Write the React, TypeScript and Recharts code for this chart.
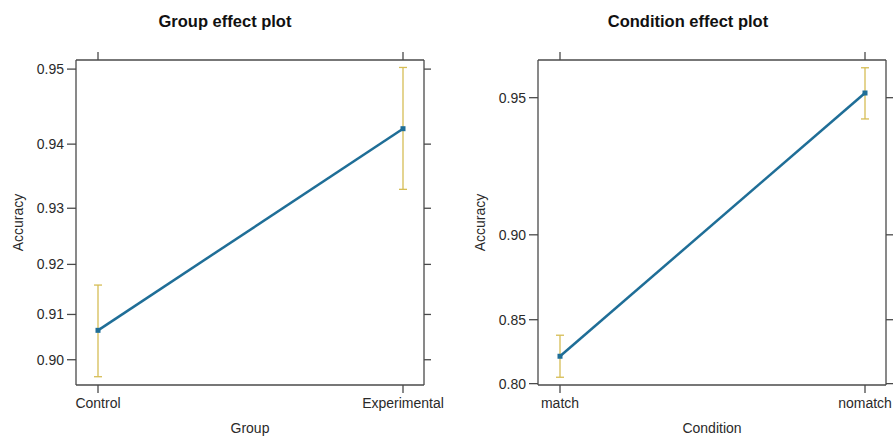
import React from "react";
import { ComposedChart, Line, XAxis, YAxis, ErrorBar } from "recharts";

// effect estimates (probability scale)
const groupCats = ["Control", "Experimental"];
const groupFit = [0.9066, 0.9422];
const groupLower = [0.896, 0.9331];
const groupUpper = [0.916, 0.9502];
const groupTicks = [0.9, 0.91, 0.92, 0.93, 0.94, 0.95];
const groupRange = [0.894, 0.9511];

const condCats = ["match", "nomatch"];
const condFit = [0.8228, 0.9512];
const condLower = [0.8055, 0.9442];
const condUpper = [0.8389, 0.9572];
const condTicks = [0.8, 0.85, 0.9, 0.95];
const condRange = [0.7988, 0.9589];

const LINE = "#1f6e97";
const BAR = "#d6bd55";
const FRAME = "#4a4a4a";
const FONT = '"Liberation Sans", Arial, sans-serif';

// effects plots for a binomial model use a logit y scale
const logit = (p: number) => Math.log(p / (1 - p));
const invLogit = (v: number) => 1 / (1 + Math.exp(-v));

function buildRows(cats: string[], fit: number[], lo: number[], hi: number[]) {
  return cats.map((name, i) => {
    const y = logit(fit[i]);
    return { name, y, err: [y - logit(lo[i]), logit(hi[i]) - y] };
  });
}

const SquareDot = (props: any) => {
  const { cx, cy, index } = props;
  if (cx == null || cy == null) return null;
  return <rect key={`dot-${index}`} x={cx - 2.5} y={cy - 2.5} width={5} height={5} fill={LINE} />;
};

interface PanelProps {
  title: string;
  titleX: number;
  xName: string;
  cats: string[];
  fit: number[];
  lo: number[];
  hi: number[];
  ticks: number[];
  range: number[];
  left: number;
  width: number;
  yWidth: number;
  rightWidth: number;
  pad: { left: number; right: number };
  labelX: number;
}

function EffectPanel(p: PanelProps) {
  const rows = buildRows(p.cats, p.fit, p.lo, p.hi);
  const domain = [logit(p.range[0]), logit(p.range[1])];
  const tickVals = p.ticks.map(logit);
  const tickStyle = { fill: "#2a2a2a", fontSize: 14 };

  return (
    <div style={{ position: "absolute", left: p.left, top: 0, width: p.width, height: 438 }}>
      <div
        style={{
          position: "absolute",
          top: 12,
          left: p.titleX - 150,
          width: 300,
          textAlign: "center",
          fontWeight: "bold",
          fontSize: 16.5,
          color: "#111",
        }}
      >
        {p.title}
      </div>
      <ComposedChart width={p.width} height={438} data={rows} margin={{ top: 0, right: 0, bottom: 0, left: 0 }}>
        <XAxis
          dataKey="name"
          type="category"
          height={53}
          padding={p.pad}
          stroke={FRAME}
          strokeWidth={1.3}
          tickSize={8}
          tickMargin={5}
          tick={tickStyle}
          label={{
            content: (lp: any) => {
              const vb = lp.viewBox || {};
              return (
                <text x={vb.x + vb.width / 2} y={428} textAnchor="middle" dominantBaseline="central" fontSize={14} fill="#2a2a2a">
                  {p.xName}
                </text>
              );
            },
          }}
        />
        <XAxis
          xAxisId="top"
          dataKey="name"
          type="category"
          orientation="top"
          height={60}
          padding={p.pad}
          stroke={FRAME}
          strokeWidth={1.3}
          tickSize={8}
          tickFormatter={() => ""}
        />
        <YAxis
          type="number"
          width={p.yWidth}
          domain={domain}
          allowDataOverflow
          ticks={tickVals}
          tickFormatter={(v: number) => invLogit(v).toFixed(2)}
          stroke={FRAME}
          strokeWidth={1.3}
          tickSize={9}
          tickMargin={3}
          tick={tickStyle}
          label={{
            content: (lp: any) => {
              const vb = lp.viewBox || {};
              const cx = vb.x + p.labelX;
              const cy = vb.y + vb.height / 2;
              return (
                <text
                  x={cx}
                  y={cy}
                  transform={`rotate(-90, ${cx}, ${cy})`}
                  textAnchor="middle"
                  dominantBaseline="central"
                  fontSize={14}
                  fill="#2a2a2a"
                >
                  Accuracy
                </text>
              );
            },
          }}
        />
        <YAxis
          yAxisId="right"
          orientation="right"
          type="number"
          width={p.rightWidth}
          domain={domain}
          allowDataOverflow
          ticks={tickVals}
          tickFormatter={() => ""}
          stroke={FRAME}
          strokeWidth={1.3}
          tickSize={7}
        />
        <Line
          dataKey="y"
          stroke={LINE}
          strokeWidth={2.5}
          dot={SquareDot}
          activeDot={false}
          isAnimationActive={false}
        >
          <ErrorBar dataKey="err" direction="y" width={4} stroke={BAR} strokeWidth={1.3} isAnimationActive={false} />
        </Line>
      </ComposedChart>
    </div>
  );
}

export default function App() {
  return (
    <div
      style={{
        position: "absolute",
        left: 0,
        top: 0,
        width: 893,
        height: 438,
        background: "#fff",
        fontFamily: FONT,
        overflow: "hidden",
      }}
    >
      <EffectPanel
        title="Group effect plot"
        titleX={225}
        xName="Group"
        cats={groupCats}
        fit={groupFit}
        lo={groupLower}
        hi={groupUpper}
        ticks={groupTicks}
        range={groupRange}
        left={0}
        width={446}
        yWidth={76}
        rightWidth={22}
        pad={{ left: 22, right: 21 }}
        labelX={18}
      />
      <EffectPanel
        title="Condition effect plot"
        titleX={242}
        xName="Condition"
        cats={condCats}
        fit={condFit}
        lo={condLower}
        hi={condUpper}
        ticks={condTicks}
        range={condRange}
        left={446}
        width={447}
        yWidth={92}
        rightWidth={7}
        pad={{ left: 22, right: 21 }}
        labelX={34}
      />
    </div>
  );
}
